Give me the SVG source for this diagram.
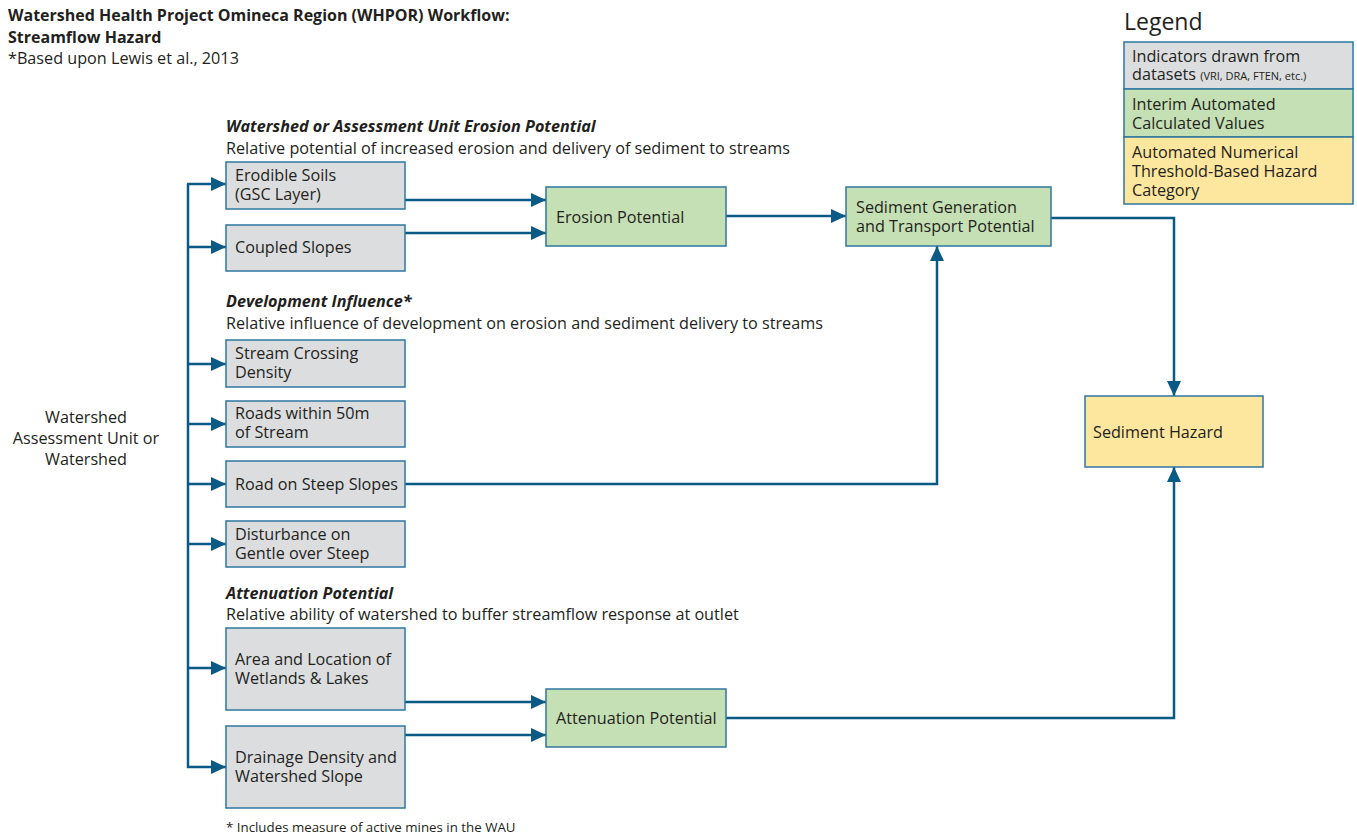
<svg xmlns="http://www.w3.org/2000/svg" width="1357" height="836" viewBox="0 0 1357 836">
<defs>
<marker id="ah" markerUnits="userSpaceOnUse" markerWidth="16" markerHeight="14" viewBox="0 0 16 14" refX="15" refY="7" orient="auto">
<path d="M0,0 L15,7 L0,14 Z" fill="#0b5a85"/>
</marker>
<style>
text{font-family:"Open Sans","Noto Sans",sans-serif;fill:#231f20;font-size:16.2px}
.t{font-weight:bold;font-size:16px}
.h{font-weight:bold;font-style:italic}
.g{fill:#dcdddf;stroke:#2f77a0;stroke-width:1.5}
.gr{fill:#c5e0b4;stroke:#2f77a0;stroke-width:1.5}
.y{fill:#fde69d;stroke:#2f77a0;stroke-width:1.5}
.c{fill:none;stroke:#0b5a85;stroke-width:2.5}
.a{marker-end:url(#ah)}
</style>
</defs>
<text class="t" x="8" y="21">Watershed Health Project Omineca Region (WHPOR) Workflow:</text>
<text class="t" x="8" y="43">Streamflow Hazard</text>
<text x="8" y="64">*Based upon Lewis et al., 2013</text>

<g id="legend">
<text x="1124" y="30" style="font-size:23px">Legend</text>
<rect class="g" x="1124" y="42" width="229" height="47"/>
<rect class="gr" x="1124" y="89" width="229" height="48"/>
<rect class="y" x="1124" y="137" width="229" height="67"/>
<text x="1132" y="62">Indicators drawn from</text>
<text x="1132" y="80">datasets <tspan style="font-size:11px">(VRI, DRA, FTEN, etc.)</tspan></text>
<text x="1132" y="110">Interim Automated</text>
<text x="1132" y="129">Calculated Values</text>
<text x="1132" y="158">Automated Numerical</text>
<text x="1132" y="177">Threshold-Based Hazard</text>
<text x="1132" y="196">Category</text>
</g>

<g id="headings">
<text class="h" x="226" y="132">Watershed or Assessment Unit Erosion Potential</text>
<text x="226" y="154">Relative potential of increased erosion and delivery of sediment to streams</text>
<text class="h" x="226" y="307">Development Influence*</text>
<text x="226" y="329">Relative influence of development on erosion and sediment delivery to streams</text>
<text class="h" x="226" y="599">Attenuation Potential</text>
<text x="226" y="620">Relative ability of watershed to buffer streamflow response at outlet</text>
<text x="226" y="832" style="font-size:13.3px">* Includes measure of active mines in the WAU</text>
</g>

<g id="source">
<text x="86" y="423" text-anchor="middle">Watershed</text>
<text x="86" y="444" text-anchor="middle">Assessment Unit or</text>
<text x="86" y="465" text-anchor="middle">Watershed</text>
</g>

<g id="connectors">
<path class="c" d="M188,184 V768"/>
<path class="c a" d="M187,184 H226"/>
<path class="c a" d="M187,247 H226"/>
<path class="c a" d="M187,364 H226"/>
<path class="c a" d="M187,424 H226"/>
<path class="c a" d="M187,484 H226"/>
<path class="c a" d="M187,544 H226"/>
<path class="c a" d="M187,668 H226"/>
<path class="c a" d="M187,767 H226"/>
<path class="c a" d="M405,200 H546"/>
<path class="c a" d="M405,233 H546"/>
<path class="c a" d="M726,216 H846"/>
<path class="c a" d="M405,484 H937 V246"/>
<path class="c a" d="M1051,218 H1174 V396"/>
<path class="c a" d="M405,702 H546"/>
<path class="c a" d="M405,735 H546"/>
<path class="c a" d="M726,718 H1174 V467"/>
</g>

<g id="n-erodible"><rect class="g" x="226" y="162" width="179" height="47"/><text x="235" y="181">Erodible Soils</text><text x="235" y="200">(GSC Layer)</text></g>
<g id="n-coupled"><rect class="g" x="226" y="225" width="179" height="46"/><text x="235" y="253">Coupled Slopes</text></g>
<g id="n-crossing"><rect class="g" x="226" y="340" width="179" height="47"/><text x="235" y="359">Stream Crossing</text><text x="235" y="378">Density</text></g>
<g id="n-roads50"><rect class="g" x="226" y="401" width="179" height="46"/><text x="235" y="419">Roads within 50m</text><text x="235" y="438">of Stream</text></g>
<g id="n-steep"><rect class="g" x="226" y="461" width="179" height="46"/><text x="235" y="490">Road on Steep Slopes</text></g>
<g id="n-disturb"><rect class="g" x="226" y="521" width="179" height="46"/><text x="235" y="540">Disturbance on</text><text x="235" y="559">Gentle over Steep</text></g>
<g id="n-wetlands"><rect class="g" x="226" y="628" width="179" height="82"/><text x="235" y="665">Area and Location of</text><text x="235" y="684">Wetlands &amp; Lakes</text></g>
<g id="n-drainage"><rect class="g" x="226" y="726" width="179" height="82"/><text x="235" y="763">Drainage Density and</text><text x="235" y="782">Watershed Slope</text></g>
<g id="n-erosion"><rect class="gr" x="546" y="187" width="180" height="59"/><text x="556" y="223">Erosion Potential</text></g>
<g id="n-sediment-gen"><rect class="gr" x="846" y="187" width="205" height="59"/><text x="856" y="213">Sediment Generation</text><text x="856" y="232">and Transport Potential</text></g>
<g id="n-attenuation"><rect class="gr" x="546" y="689" width="180" height="58"/><text x="556" y="724">Attenuation Potential</text></g>
<g id="n-hazard"><rect class="y" x="1085" y="396" width="178" height="71"/><text x="1093" y="438">Sediment Hazard</text></g>
</svg>
